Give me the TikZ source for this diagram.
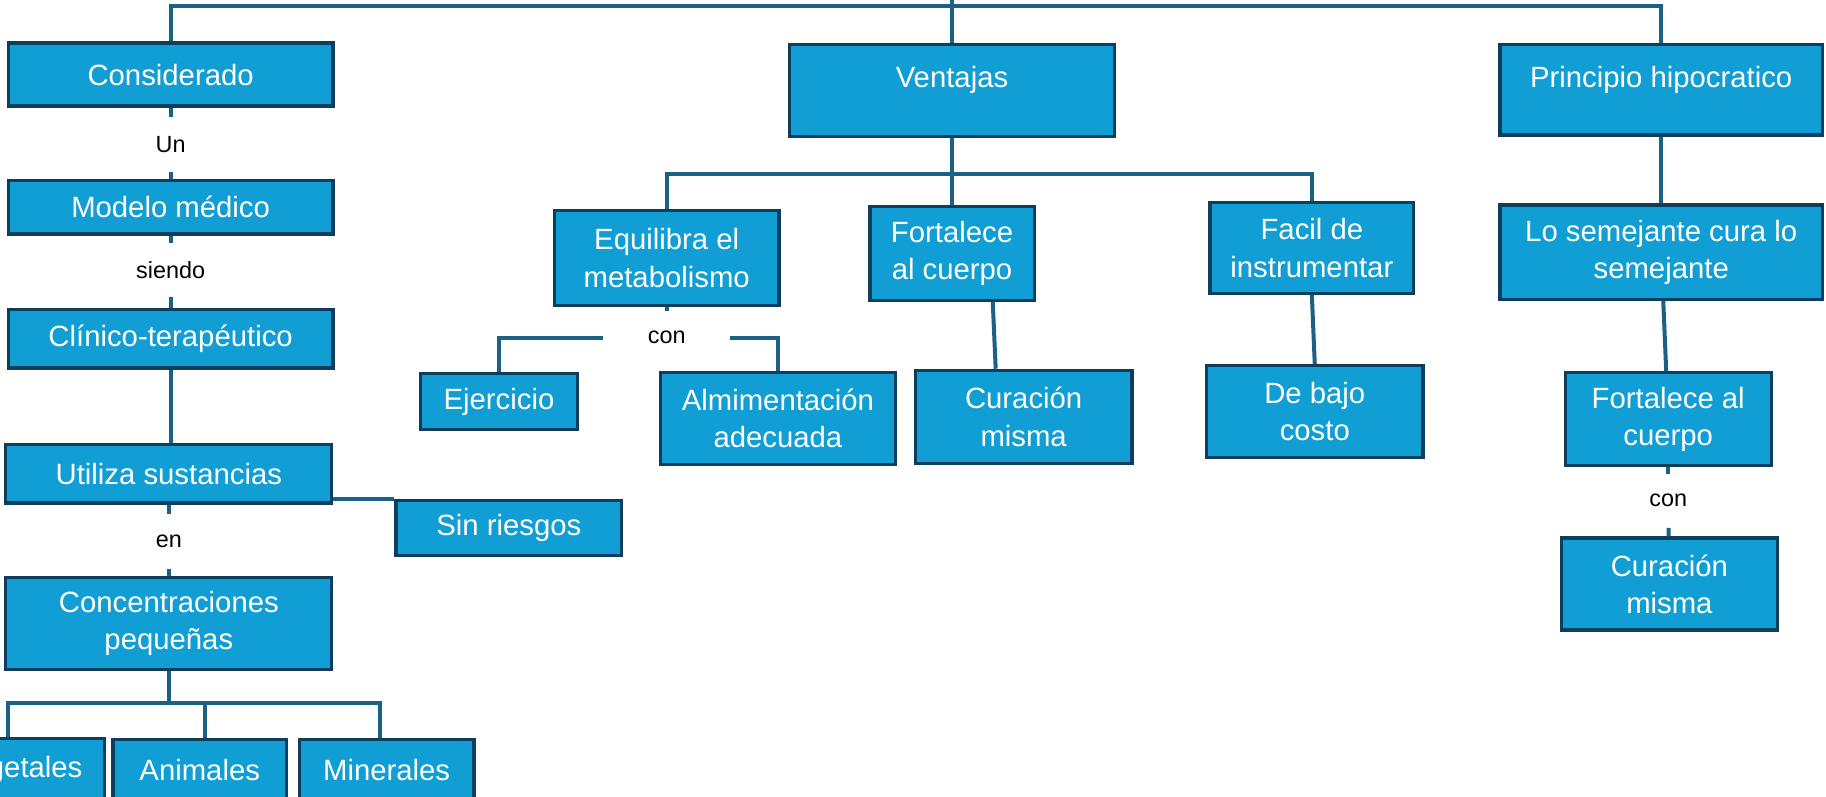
\documentclass[tikz,border=0pt]{standalone}
\usepackage{fontspec}
\setmainfont{Liberation Sans}
\usetikzlibrary{calc}
\definecolor{boxfill}{RGB}{17,158,213}
\definecolor{boxline}{RGB}{13,62,92}
\definecolor{conncol}{RGB}{27,97,134}
\newcommand\uu{0.58225pt}
\newcommand\bx[7][]{\node[box,#1,minimum width={(#5-#3)*\uu},minimum height={(#6-#4)*\uu}] (#2) at ({(#3+#5)/2},{(#4+#6)/2}) {#7};}
\tikzset{
  box/.style={draw=boxline,fill=boxfill,line width=1.6pt,text=white,
    font=\fontsize{14.65}{18.6}\selectfont,align=center,inner sep=0pt},
  lbl/.style={font=\fontsize{11.7}{14}\selectfont,inner sep=0pt,
    minimum width=108*\uu,minimum height=46*\uu,text=black},
  conn/.style={draw=conncol,line width=2pt},
  raised/.style={text depth=13pt}
}
\begin{document}
\begin{tikzpicture}[x=0.58225pt,y=-0.58225pt]
\useasboundingbox (0,0) rectangle (1568,684);
\clip (0,0) rectangle (1568,684);
\coordinate (edge) at (0,0);
\coordinate (top) at (0,5);
\coordinate (bar) at (0,149);
\coordinate (bb) at (0,604);
% connectors drawn first (boxes on top)
% left column nodes
\bx{cons}{7}{37}{286}{91}{Considerado}
\bx{mod}{7}{155}{286}{201}{Modelo médico}
\bx{cli}{7}{266}{286}{316}{Clínico-terapéutico}
\bx{uti}{5}{382}{285}{432}{Utiliza sustancias}
\bx{sin}{340}{430}{534}{477}{Sin riesgos}
\bx{conc}{5}{496}{285}{575}{Concentraciones\\pequeñas}
\bx{veg}{-59}{634}{90}{688}{Vegetales}
\bx{ani}{97}{635}{246}{688}{Animales}
\bx{min}{257}{635}{407}{688}{Minerales}
\node[lbl] (un) at (146.5,124) {Un};
\node[lbl] (siendo) at (146.5,232) {siendo};
\node[lbl] (en) at (145,465) {en};
% centre
\bx[raised]{ven}{678}{38}{957}{117}{Ventajas}
\bx{eq}{476}{181}{669}{262}{Equilibra el\\metabolismo}
\bx{fort}{747}{177}{888}{258}{Fortalece\\al cuerpo}
\bx{fac}{1039}{174}{1214}{252}{Facil de\\instrumentar}
\node[lbl] (con1) at (572.5,290) {con};
\bx{ej}{361}{321}{496}{369}{Ejercicio}
\bx{alim}{567}{320}{769}{399}{Almimentación\\adecuada}
\bx{cur1}{786}{318}{972}{398}{Curación\\misma}
\bx{baj}{1036}{314}{1222}{393}{De bajo\\costo}
% right
\bx[raised]{pri}{1288}{38}{1565}{116}{Principio hipocratico}
\bx{sem}{1288}{176}{1565}{257}{Lo semejante cura lo\\semejante}
\bx{fort2}{1344}{320}{1521}{400}{Fortalece al\\cuerpo}
\node[lbl] (con2) at (1432.5,430) {con};
\bx{cur2}{1341}{462}{1526}{541}{Curación\\misma}
% connectors: top
\draw[conn] (cons.north) -- (cons.north |- top) -- (pri.north |- top) -- (pri.north);
\draw[conn] (ven.north) -- (ven.north |- edge);
% left
\draw[conn] (cons) -- (un);
\draw[conn] (un) -- (mod);
\draw[conn] (mod) -- (siendo);
\draw[conn] (siendo) -- (cli);
\draw[conn] (cli.south) -- (cli.south |- uti.north);
\draw[conn] (uti) -- (en);
\draw[conn] (en) -- (conc);
\draw[conn] (sin.north west) -- (sin.north west -| uti.east);
\coordinate (vegc) at ($(veg.north)+(-8.5,0)$);
\coordinate (anic) at ($(ani.north)+(4.5,0)$);
\coordinate (minc) at ($(min.north)+(-6,0)$);
\draw[conn] (conc.south) -- (conc.south |- bb);
\draw[conn] (vegc) |- (minc |- bb) -- (minc);
\draw[conn] (anic) -- (anic |- bb);
% centre
\draw[conn] (ven.south) -- (fort.north);
\draw[conn] (eq.north) |- (fac.north |- bar) -- (fac.north);
\draw[conn] (eq) -- (con1);
\draw[conn] (con1.west) -| (ej.north);
\draw[conn] (con1.east) -| (alim.north);
\draw[conn] ($(fort.south)+(35,0)$) -- ($(cur1.north)+(-24,0)$);
\draw[conn] (fac.south) -- (baj.north);
% right
\draw[conn] (pri) -- (sem);
\draw[conn] (sem) -- (fort2);
\draw[conn] (fort2) -- (con2);
\draw[conn] (con2) -- (cur2);
\end{tikzpicture}
\end{document}
